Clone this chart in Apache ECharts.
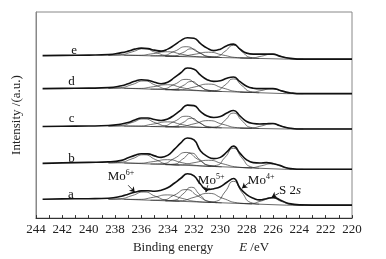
<!DOCTYPE html>
<html>
<head>
<meta charset="utf-8">
<script src="https://cdn.jsdelivr.net/npm/echarts@6/dist/echarts.min.js"></script>
<style>
  html, body { margin: 0; padding: 0; background: #fff; }
  #chart { width: 386px; height: 259px; }
</style>
</head>
<body>
<div id="chart"></div>
<script>
var chart = echarts.init(document.getElementById('chart'), null, { renderer: 'canvas' });

var serif = "'Liberation Serif', 'Times New Roman', serif";

// binding energy grid of the measured envelopes (eV)
var energies = [243.5, 242, 240, 238.5, 237.5, 237, 236.5, 236, 235.5, 235, 234.5, 234, 233.5, 233, 232.5, 232,
  231.5, 231, 230.5, 230, 229.5, 229, 228.5, 228, 227.5, 227, 226.5, 226, 225.5, 225, 224.5, 224, 222, 220];

// envelopes, intensity above each curve's own right-hand baseline
var envA = [6, 6.3, 6.5, 7, 9, 11, 13, 14.3, 14.5, 14, 15, 17.5, 22, 27, 31.5, 29.3, 21, 15.5, 16.5, 18.5, 23, 26.7, 17, 10.5, 7, 5.3, 6.5, 7.7, 5.5, 2.5, 1, 0.3, 0, 0];
var envB = [6, 6.5, 7, 7.5, 9, 11.5, 14, 15.7, 15.5, 13.5, 12, 14, 20, 26.5, 31.5, 29.5, 18.5, 13, 10.7, 12, 17.5, 23.3, 16, 9.5, 6.7, 6.3, 6.7, 5.7, 4, 1.5, 0.5, 0, 0, 0];
var envC = [2.5, 2.8, 3, 3.5, 5, 6.5, 9, 11, 11, 9.5, 8.5, 10, 14, 19, 24, 23.5, 17.5, 13, 11.5, 12.5, 16, 18.5, 13, 7.5, 5.5, 5, 5.3, 5.5, 3.5, 1.5, 0.5, 0, 0, 0];
var envD = [5, 5.3, 5.5, 6, 8, 10, 12.5, 14, 13.5, 11.5, 10, 11.5, 16, 21, 25.7, 24.5, 18.5, 14, 12.3, 13, 15.5, 16.7, 12, 7.5, 5.5, 5, 5, 5, 3.5, 1.5, 0.5, 0, 0, 0];
var envE = [3.5, 3.7, 4, 4.5, 6.5, 8, 10, 11, 10.5, 9, 8, 10, 14, 18.5, 21.5, 21, 15.5, 11, 8.5, 10, 13.5, 15, 10, 6, 5, 5, 5, 5, 3, 1.3, 0.5, 0, 0, 0];

// fitted components: Mo6+ 3d3/2, Mo5+ 3d3/2, Mo6+ 3d5/2, Mo4+ 3d3/2, Mo5+ 3d5/2, Mo4+ 3d5/2, S 2s
var compEnergies = [
  [238.5, 237.6, 236.7, 235.8, 234.9, 234.0, 233.1],
  [237.3, 236.2, 235.1, 234.0, 232.9, 231.8, 230.7],
  [235.3, 234.4, 233.5, 232.6, 231.7, 230.8, 229.9],
  [234.15, 233.5, 232.85, 232.2, 231.55, 230.9, 230.25],
  [234.2, 233.1, 232.0, 230.9, 229.8, 228.7, 227.6],
  [230.95, 230.3, 229.65, 229.0, 228.35, 227.7, 227.05],
  [228.5, 227.7, 226.9, 226.1, 225.3, 224.5, 223.7]
];
var compA = [
  [6, 6.5, 9.6, 13.2, 8.75, 4.8, 3.9],
  [5.9, 5.8, 7.85, 10.3, 6.8, 3.65, 2.75],
  [4.95, 5.25, 10.1, 15.65, 9.2, 3.55, 2.35],
  [4.4, 5.0, 11.05, 17.95, 10.4, 3.75, 2.5],
  [4.4, 4.45, 7.85, 11.85, 6.8, 2.35, 1.25],
  [2.85, 3.95, 13.25, 23.9, 12.6, 2.7, 1.0],
  [1.7, 1.7, 4.15, 7.05, 3.4, 0.4, 0]
];
var compB = [
  [6.5, 7.06, 10.58, 14.62, 9.65, 5.24, 4.21],
  [6.4, 6.13, 7.75, 9.68, 6.61, 3.85, 2.96],
  [5.36, 5.7, 10.92, 16.95, 9.98, 3.83, 2.55],
  [4.76, 5.2, 10.33, 16.24, 9.66, 3.85, 2.73],
  [4.78, 4.59, 6.64, 9.07, 5.5, 2.3, 1.35],
  [3.09, 3.95, 11.92, 21.08, 11.24, 2.59, 1.07],
  [1.82, 1.71, 3.49, 5.57, 2.66, 0.31, 0]
];
var compC = [
  [3, 3.47, 6.56, 10.09, 6.13, 2.63, 1.94],
  [2.95, 3.0, 4.92, 7.16, 4.4, 1.94, 1.37],
  [2.47, 2.95, 7.54, 12.82, 7.11, 2.08, 1.18],
  [2.2, 2.6, 6.38, 10.73, 6.07, 1.98, 1.26],
  [2.21, 2.38, 5.18, 8.42, 4.65, 1.33, 0.62],
  [1.43, 2.21, 8.62, 15.96, 8.3, 1.59, 0.49],
  [0.84, 0.96, 2.96, 5.26, 2.57, 0.31, 0]
];
var compD = [
  [5.5, 6.0, 9.15, 12.75, 8.36, 4.46, 3.56],
  [5.41, 5.24, 6.94, 8.96, 5.98, 3.3, 2.51],
  [4.53, 4.83, 9.24, 14.34, 8.45, 3.24, 2.16],
  [4.03, 4.3, 7.95, 12.17, 7.38, 3.16, 2.31],
  [4.05, 4.0, 6.58, 9.6, 5.61, 2.07, 1.14],
  [2.62, 3.14, 8.55, 14.76, 7.97, 2.0, 0.9],
  [1.54, 1.47, 3.09, 4.98, 2.38, 0.28, 0]
];
var compE = [
  [4, 4.44, 7.24, 10.46, 6.67, 3.32, 2.59],
  [3.94, 3.86, 5.48, 7.38, 4.78, 2.46, 1.82],
  [3.3, 3.64, 7.72, 12.43, 7.14, 2.49, 1.57],
  [2.93, 3.22, 6.51, 10.3, 6.1, 2.39, 1.68],
  [2.94, 2.9, 4.74, 6.89, 4.04, 1.49, 0.83],
  [1.9, 2.48, 7.74, 13.78, 7.32, 1.64, 0.66],
  [1.12, 1.14, 2.86, 4.85, 2.35, 0.28, 0]
];

// linear backgrounds
var backEnergies = [238.5, 237.5, 225, 220];
var backA = [6, 6, 0, 0];
var backB = [6.5, 6.5, 0, 0];
var backC = [3, 3, 0, 0];
var backD = [5.5, 5.5, 0, 0];
var backE = [4, 4, 0, 0];

// vertical stacking of the five spectra
var names = ['a', 'b', 'c', 'd', 'e'];
var baseLevels = [13, 49, 89.5, 125, 159.7];
var envelopes = [envA, envB, envC, envD, envE];
var components = [compA, compB, compC, compD, compE];
var backs = [backA, backB, backC, backD, backE];

// where the letters and the peak annotations sit (data coordinates)
var letterPos = [[241.35, 24], [241.3, 60], [241.3, 100], [241.3, 137], [241.1, 168]];
var notePos = [[237.55, 42], [230.7, 38], [226.9, 38], [224.7, 28]];
var noteText = ['{m|Mo}{s|6+}', '{m|Mo}{s|5+}', '{m|Mo}{s|4+}', '{m|S 2}{i|s}'];
var arrows = [
  [[237.0, 33], [236.5, 26]],
  [[230.95, 33], [231.1, 26]],
  [[227.8, 36], [228.35, 30]],
  [[225.55, 25], [226.1, 21]]
];

function pairs(xs, ys, base) {
  return xs.map(function (x, k) { return [x, base + ys[k]]; });
}

var series = [];
names.forEach(function (nm, i) {
  series.push({
    type: 'line', data: pairs(backEnergies, backs[i], baseLevels[i]),
    symbol: 'none', silent: true, lineStyle: { color: '#444', width: 0.8 }, z: 2
  });
  components[i].forEach(function (c, j) {
    series.push({
      type: 'line', data: pairs(compEnergies[j], c, baseLevels[i]),
      symbol: 'none', smooth: 0.6, silent: true,
      lineStyle: { color: '#333', width: 0.7 }, z: 2
    });
  });
  series.push({
    name: nm, type: 'line', data: pairs(energies, envelopes[i], baseLevels[i]),
    symbol: 'none', smooth: 0.5, lineStyle: { color: '#111', width: 1.6 }, z: 3,
    markPoint: {
      symbol: 'circle', symbolSize: 1, itemStyle: { color: 'rgba(0,0,0,0)' },
      label: { show: true, position: 'inside', color: '#111', fontSize: 13, fontFamily: serif, formatter: nm },
      data: [{ coord: letterPos[i] }]
    }
  });
});

// peak annotations with arrows on curve a
series.push({
  type: 'line', data: [], symbol: 'none',
  markPoint: {
    symbol: 'circle', symbolSize: 1, itemStyle: { color: 'rgba(0,0,0,0)' },
    label: {
      show: true, position: 'inside', color: '#111',
      rich: {
        m: { fontSize: 13, fontFamily: serif, color: '#111' },
        s: { fontSize: 8, fontFamily: serif, color: '#111', verticalAlign: 'top', padding: [0, 0, 6, 0] },
        i: { fontSize: 13, fontFamily: serif, fontStyle: 'italic', color: '#111' }
      }
    },
    data: notePos.map(function (p, k) {
      return { coord: p, label: { formatter: noteText[k] } };
    })
  },
  markLine: {
    silent: true, symbol: ['none', 'arrow'], symbolSize: 5,
    lineStyle: { color: '#111', width: 0.8, type: 'solid' },
    label: { show: false },
    data: arrows.map(function (a) { return [{ coord: a[0] }, { coord: a[1] }]; })
  }
});

chart.setOption({
  animation: false,
  grid: { left: 36, right: 34, top: 12, bottom: 40, show: true, borderColor: '#888', borderWidth: 1 },
  xAxis: {
    type: 'value', inverse: true, min: 220, max: 244, interval: 1,
    axisLine: { show: true, lineStyle: { color: '#333', width: 1 } },
    axisTick: { show: true, inside: true, length: 3, lineStyle: { color: '#333' } },
    splitLine: { show: false },
    axisLabel: {
      color: '#222', fontSize: 13, fontFamily: serif, margin: 5,
      formatter: function (v) { return v % 2 === 0 ? String(v) : ''; }
    },
    name: '{t|Binding energy}{g| }{i|E}{t| /eV}',
    nameLocation: 'middle', nameGap: 22,
    nameTextStyle: {
      padding: [0, 0, 0, 14],
      rich: {
        t: { fontSize: 13, fontFamily: serif, color: '#222' },
        g: { width: 26 },
        i: { fontSize: 13, fontFamily: serif, fontStyle: 'italic', color: '#222' }
      }
    }
  },
  yAxis: {
    type: 'value', min: 0, max: 207,
    axisLine: { show: true, lineStyle: { color: '#888' } },
    axisTick: { show: false }, axisLabel: { show: false }, splitLine: { show: false },
    name: 'Intensity /(a.u.)', nameLocation: 'middle', nameGap: 13, nameRotate: 90,
    nameTextStyle: { fontSize: 13, fontFamily: serif, color: '#222' }
  },
  series: series
});
</script>
</body>
</html>
